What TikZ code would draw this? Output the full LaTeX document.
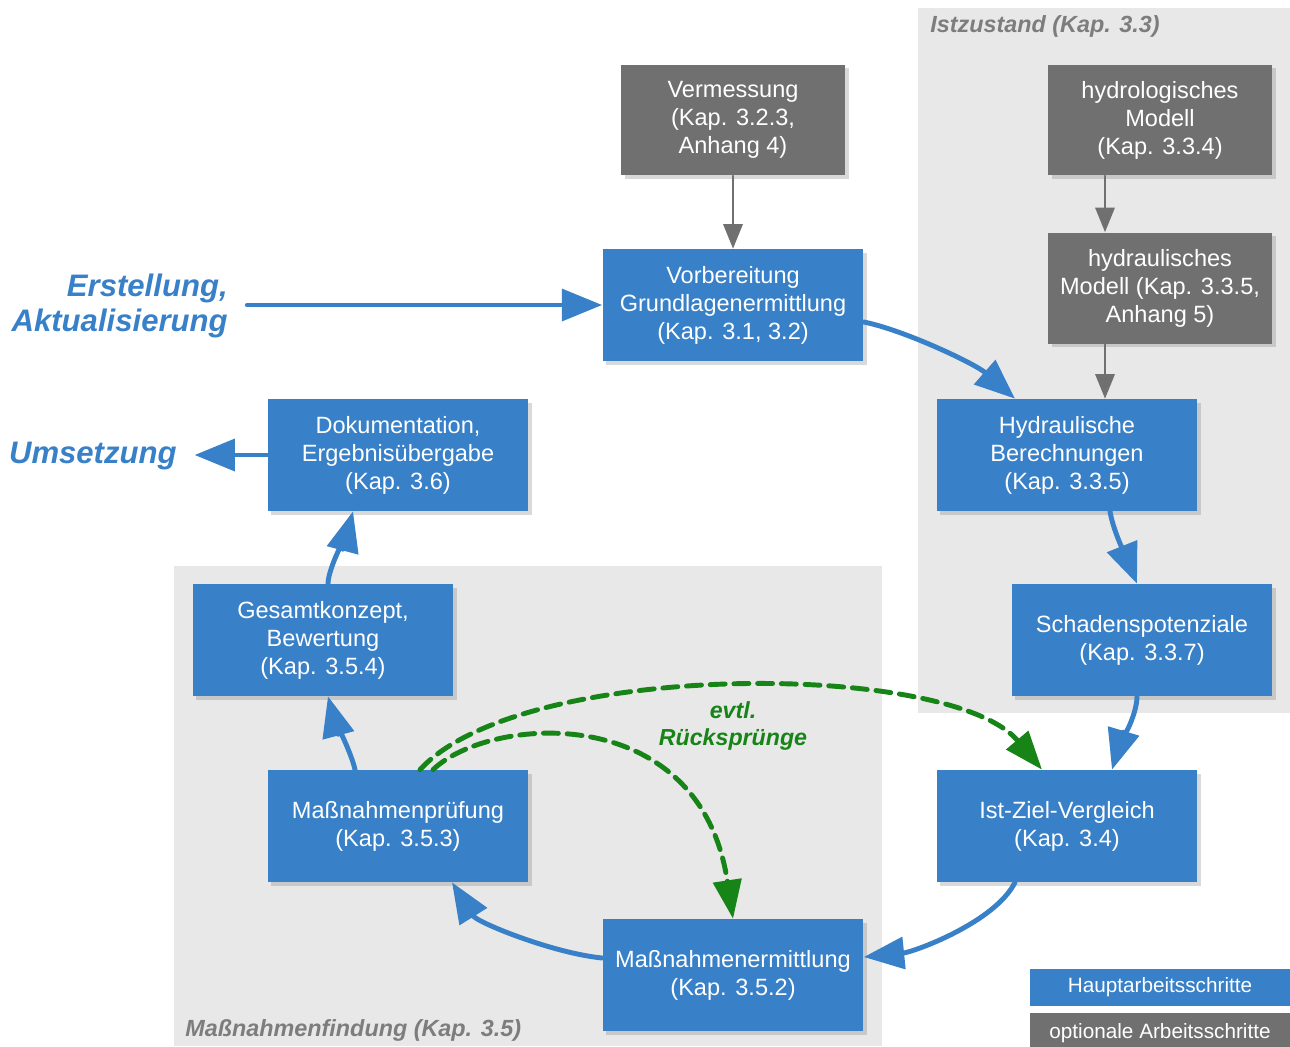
\documentclass[tikz,border=0pt]{standalone}
\usepackage{fontspec}
\setmainfont{Liberation Sans}
\usepackage{tikz}
\usetikzlibrary{arrows.meta,calc,shadows}
\usetikzlibrary{positioning}
\usepackage{xcolor}

\definecolor{stepblue}{RGB}{56,128,200}
\definecolor{optgray}{RGB}{112,112,112}
\definecolor{areagray}{RGB}{232,232,232}
\definecolor{arealabel}{RGB}{125,125,125}
\definecolor{jumpgreen}{RGB}{22,132,22}

\tikzset{
  mainstep/.style={fill=stepblue, text=white, align=center, inner sep=0pt,
    minimum width=5.22cm, minimum height=2.24cm,
    font=\fontsize{13.4}{15.9}\selectfont,
    drop shadow={opacity=0.3, shadow xshift=2pt, shadow yshift=-2pt}},
  optstep/.style={mainstep, fill=optgray, minimum width=4.48cm, minimum height=2.22cm},
  flow/.style={draw=stepblue, line width=2.8pt, -{Triangle[length=23pt,width=18pt]}},
  optflow/.style={draw=optgray, line width=1.4pt, -{Triangle[length=14pt,width=11pt]}},
  jump/.style={draw=jumpgreen, line width=2.8pt, dash pattern=on 8.5pt off 5pt,
    -{Triangle[length=22pt,width=16pt]}},
  area/.style={fill=areagray, draw=none},
  areatitle/.style={text=arealabel, inner sep=0pt,
    font=\fontsize{13.3}{15.5}\selectfont\bfseries\itshape},
  sidelabel/.style={text=stepblue, inner sep=0pt, align=right,
    font=\fontsize{17.7}{20.4}\selectfont\bfseries\itshape},
  legendbox/.style={text=white, inner sep=0pt, minimum width=5.2cm,
    font=\fontsize{11.8}{14}\selectfont}
}

\begin{document}
\begin{tikzpicture}[x=0.02cm, y=-0.02cm, line cap=round, line join=round]
  \useasboundingbox (0,0) rectangle (1290,1046);

  % Areas
  \fill[area] (918,8) rectangle (1290,713);
  \fill[area] (174,566) rectangle (882,1046);
  \node[areatitle, anchor=west] (istarea) at (930,26) {Istzustand (Kap. 3.3)};
  \node[areatitle, anchor=west] (massarea) at (185,1030) {Maßnahmenfindung (Kap. 3.5)};

  % Optional steps
  \node[optstep] (verm) at (733,120) {Vermessung\\(Kap. 3.2.3,\\Anhang 4)};
  \node[optstep] (hydrol) at (1160,120) {hydrologisches\\Modell\\(Kap. 3.3.4)};
  \node[optstep] (hydrau) at (1160,288) {hydraulisches\\Modell (Kap. 3.3.5,\\Anhang 5)};

  % Main steps
  \node[mainstep] (vorb) at (733,305) {Vorbereitung\\Grundlagenermittlung\\(Kap. 3.1, 3.2)};
  \node[mainstep] (hydber) at (1067,455) {Hydraulische\\Berechnungen\\(Kap. 3.3.5)};
  \node[mainstep] (schad) at (1142,640) {Schadenspotenziale\\(Kap. 3.3.7)};
  \node[mainstep] (istziel) at (1067,826) {Ist-Ziel-Vergleich\\(Kap. 3.4)};
  \node[mainstep] (mermitt) at (733,975) {Maßnahmenermittlung\\(Kap. 3.5.2)};
  \node[mainstep] (mpruef) at (398,826) {Maßnahmenprüfung\\(Kap. 3.5.3)};
  \node[mainstep] (gesamt) at (323,640) {Gesamtkonzept,\\Bewertung\\(Kap. 3.5.4)};
  \node[mainstep] (doku) at (398,455) {Dokumentation,\\Ergebnisübergabe\\(Kap. 3.6)};

  % Entry and exit
  \node[sidelabel, anchor=east] (erst) at (228,306) {Erstellung,\\Aktualisierung};
  \node[sidelabel, anchor=east] (umsetz) at (177,456) {Umsetzung};

  % Legend
  \node[legendbox, fill=stepblue, minimum height=0.74cm] (legmain) at (1160,987) {Hauptarbeitsschritte};
  \node[legendbox, fill=optgray, minimum height=0.8cm] (legopt) at (1160,1033) {optionale Arbeitsschritte};

  % Optional flow
  \draw[optflow] (verm) -- (vorb);
  \draw[optflow] ($(hydrol.south)+(-55,0)$) -- ($(hydrau.north)+(-55,0)$);
  \draw[optflow] ($(hydrau.south)+(-55,0)$) -- ($(hydber.north)+(38,0)$);

  % Main flow
  \draw[flow, shorten <=11pt] (vorb.west -| erst.east) -- (vorb.west);
  \draw[flow] ($(vorb.east)+(0,17)$) .. controls +(40,8) and +(-40,-35) .. ($(hydber.north)+(-52,0)$);
  \draw[flow] ($(hydber.south)+(43,0)$) .. controls +(3,20) and +(-8,-20) .. ($(schad.north)+(-5,0)$);
  \draw[flow] ($(schad.south)+(-5,0)$) .. controls +(0,20) and +(6,-20) .. ($(istziel.north)+(45,0)$);
  \draw[flow] ($(istziel.south)+(-52,0)$) .. controls +(-20,40) and +(50,-5) .. ($(mermitt.east)+(0,-18)$);
  \draw[flow] ($(mermitt.west)+(0,-17)$) .. controls +(-50,-5) and +(25,40) .. ($(mpruef.south)+(54,0)$);
  \draw[flow] ($(mpruef.north)+(-43,0)$) .. controls +(-3,-15) and +(4,15) .. ($(gesamt.south)+(5,0)$);
  \draw[flow] ($(gesamt.north)+(5,0)$) .. controls +(0,-15) and +(-4,15) .. ($(doku.south)+(-45,0)$);
  \draw[flow, shorten >=10pt] (doku.west) -- (doku.west -| umsetz.east);

  % Possible jumps back
  \draw[jump] ($(mpruef.north)+(22,0)$) .. controls (520,660) and (950,660) .. ($(istziel.north)+(-25,0)$);
  \draw[jump] ($(mpruef.north)+(35,0)$) .. controls (490,715) and (700,700) .. (mermitt.north);
  \node[text=jumpgreen, align=center, font=\fontsize{13.2}{15.5}\selectfont\bfseries\itshape] (jumplabel) at (733,726) {evtl.\\Rücksprünge};
\end{tikzpicture}
\end{document}
